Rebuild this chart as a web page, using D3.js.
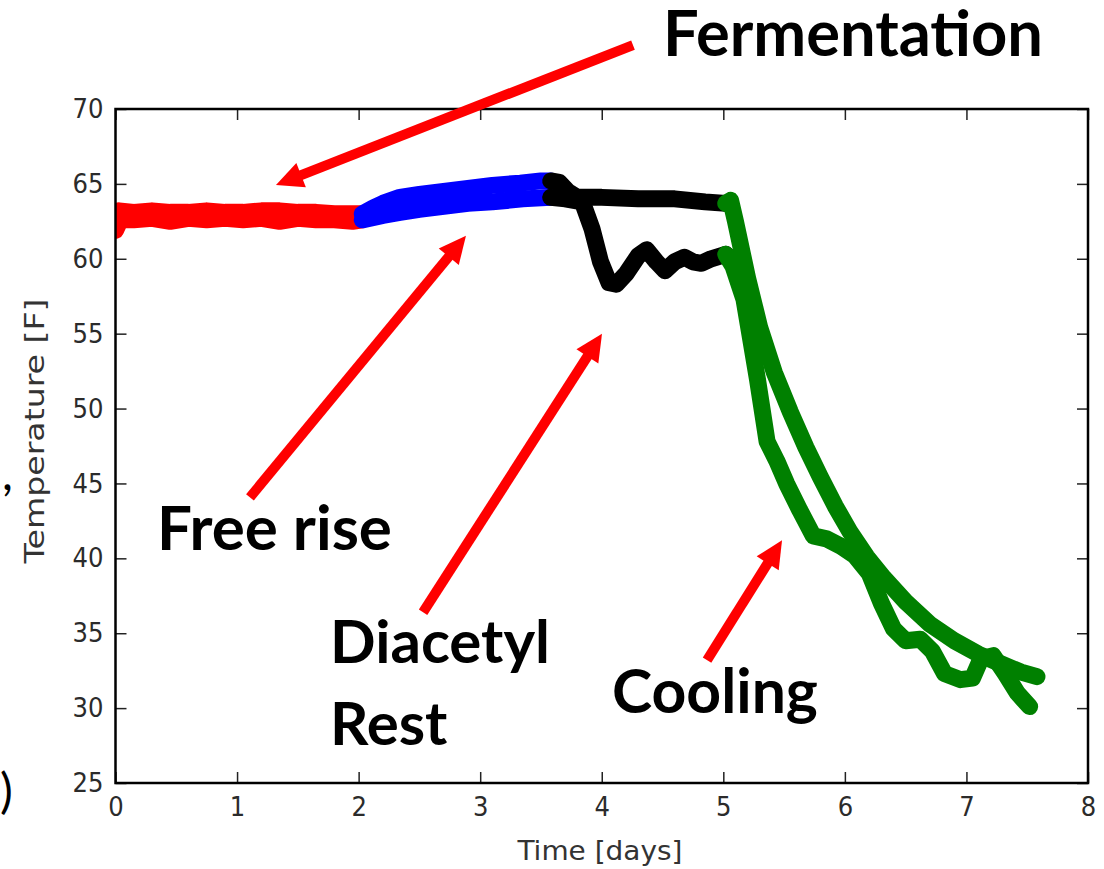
<!DOCTYPE html>
<html>
<head>
<meta charset="utf-8">
<script src="https://cdn.jsdelivr.net/npm/d3@7"></script>
<style>
  body { margin: 0; background: #fff; }
  svg { display: block; }
  .axis .tick text { font-family: "DejaVu Sans Condensed", "DejaVu Sans", sans-serif; font-size: 27px; fill: #2b2b2b; }
  .axis path { display: none; }
  .axis line { stroke: #222; stroke-width: 1.5; }
  .axislabel { font-family: "DejaVu Sans Condensed", "DejaVu Sans", sans-serif; font-size: 27px; fill: #333; }
  .note { font-family: Lato, "Open Sans", sans-serif; font-weight: 700; font-size: 60px; fill: #000; }
</style>
</head>
<body>
<div id="chart"></div>
<script>
const width = 1104, height = 869;
const padding = {top: 109, right: 16, bottom: 86, left: 115.5};

// ---- data: [day, temperature F] for the two batches, split by phase ----
const fermentRun1 = [[0,62.8],[0.03,63.2],[0.15,63.1],[0.3,63.2],[0.45,63.1],[0.6,63.1],[0.75,63.2],[0.9,63.1],[1.05,63.1],[1.2,63.2],[1.35,63.2],[1.5,63.1],[1.65,63.1],[1.8,63.0],[1.95,63.0],[2.03,63.0]];
const fermentRun2 = [[0,61.9],[0.04,62.6],[0.15,62.6],[0.3,62.7],[0.45,62.5],[0.6,62.7],[0.75,62.6],[0.9,62.7],[1.05,62.6],[1.2,62.7],[1.35,62.5],[1.5,62.7],[1.65,62.6],[1.8,62.6],[1.95,62.5],[2.03,62.6]];

const riseRun1 = [[2.03,63.0],[2.12,63.4],[2.2,63.7],[2.34,64.1],[2.5,64.3],[2.7,64.5],[2.9,64.7],[3.1,64.9],[3.33,65.05],[3.5,65.2],[3.58,65.2]];
const riseRun2 = [[2.03,62.6],[2.2,62.9],[2.34,63.1],[2.5,63.3],[2.7,63.5],[2.9,63.7],[3.1,63.8],[3.35,64.0],[3.58,64.1]];

const restRun1 = [[3.58,65.2],[3.65,65.1],[3.72,64.5],[3.8,64.1],[4.0,64.1],[4.3,64.0],[4.6,64.0],[4.85,63.8],[5.02,63.7]];
const restRun2 = [[3.58,64.1],[3.7,64.0],[3.84,63.8],[3.92,62.0],[3.99,59.8],[4.06,58.4],[4.12,58.3],[4.2,59.0],[4.3,60.2],[4.37,60.6],[4.45,59.8],[4.52,59.2],[4.6,59.8],[4.68,60.1],[4.75,59.8],[4.82,59.7],[4.9,60.0],[5.02,60.3]];

const coolRun1 = [[5.02,63.7],[5.06,63.9],[5.1,62.5],[5.2,58.7],[5.3,55.4],[5.42,52.4],[5.55,49.8],[5.68,47.4],[5.8,45.4],[5.92,43.5],[6.04,41.8],[6.18,40.1],[6.32,38.7],[6.5,37.1],[6.7,35.6],[6.9,34.5],[7.1,33.6],[7.3,32.9],[7.45,32.4],[7.58,32.1]];
const coolRun2 = [[5.02,60.3],[5.08,59.5],[5.17,57.3],[5.28,52.0],[5.36,47.8],[5.44,46.5],[5.52,45.0],[5.63,43.2],[5.74,41.5],[5.85,41.3],[5.97,40.8],[6.08,40.2],[6.2,39.0],[6.3,37.0],[6.4,35.3],[6.5,34.5],[6.62,34.6],[6.72,33.8],[6.82,32.3],[6.95,31.9],[7.05,32.0],[7.12,33.3],[7.22,33.5],[7.32,32.3],[7.42,31.0],[7.52,30.1]];

const xTicks = [0,1,2,3,4,5,6,7,8];
const yTicks = [25,30,35,40,45,50,55,60,65,70];

// annotations: text lines, text anchor [day, temp], arrow tail and tip [day, temp]
const noteLabels = [["Fermentation"], ["Free rise"], ["Diacetyl", "Rest"], ["Cooling"]];
const noteText   = [[4.504, 73.53], [0.341, 40.53], [1.765, 33.0], [4.084, 29.67]];
const noteTail   = [[4.257, 74.27], [1.106, 44.07], [2.530, 36.40], [4.866, 33.20]];
const noteTip    = [[1.320, 64.93], [2.883, 61.53], [4.002, 55.00], [5.483, 41.20]];
const noteWidth  = [380, 235, 220, 206];

const phaseColor = {ferment: "#ff0000", rise: "#0000ff", rest: "#000000", cool: "#008000"};

const svg = d3.select("#chart").append("svg")
  .attr("width", width).attr("height", height);

let x = d3.scaleLinear().domain([0, 8]).range([padding.left, width - padding.right]);
let y = d3.scaleLinear().domain([25, 70]).range([height - padding.bottom, padding.top]);

svg.append("clipPath").attr("id", "plotclip")
  .append("rect")
    .attr("x", x(0)).attr("y", y(70))
    .attr("width", x(8) - x(0)).attr("height", y(25) - y(70));

// ticks on all four sides, pointing inward
svg.append("g").attr("class", "axis x")
  .attr("transform", "translate(0," + y(25) + ")")
  .call(d3.axisBottom(x).tickValues(xTicks).tickSize(-11).tickPadding(14));
svg.append("g").attr("class", "axis x2")
  .attr("transform", "translate(0," + y(70) + ")")
  .call(d3.axisTop(x).tickValues(xTicks).tickSize(-11).tickFormat(""));
svg.append("g").attr("class", "axis y")
  .attr("transform", "translate(" + x(0) + ",0)")
  .call(d3.axisLeft(y).tickValues(yTicks).tickSize(-11).tickPadding(12));
svg.append("g").attr("class", "axis y2")
  .attr("transform", "translate(" + x(8) + ",0)")
  .call(d3.axisRight(y).tickValues(yTicks).tickSize(-11).tickFormat(""));

// draw the lines
let line = d3.line().x(d => x(d[0])).y(d => y(d[1]));
const phases = [
  ["ferment", [fermentRun1, fermentRun2]],
  ["rise", [riseRun1, riseRun2]],
  ["rest", [restRun1, restRun2]],
  ["cool", [coolRun1, coolRun2]]
];
const lines = svg.append("g").attr("clip-path", "url(#plotclip)");
phases.forEach(function(p) {
  lines.selectAll(".ph-" + p[0])
    .data(p[1])
    .join("path")
      .attr("class", "ph-" + p[0])
      .attr("fill", "none")
      .attr("stroke", phaseColor[p[0]])
      .attr("stroke-width", 17)
      .attr("stroke-linejoin", "round")
      .attr("stroke-linecap", "round")
      .attr("d", line);
});

// frame
svg.append("rect")
  .attr("x", x(0)).attr("y", y(70))
  .attr("width", x(8) - x(0)).attr("height", y(25) - y(70))
  .attr("fill", "none").attr("stroke", "#000").attr("stroke-width", 2.5);

// axis titles
svg.append("text").attr("class", "axislabel")
  .attr("x", 600).attr("y", 860)
  .attr("text-anchor", "middle")
  .attr("textLength", 165).attr("lengthAdjust", "spacingAndGlyphs")
  .text("Time [days]");
svg.append("text").attr("class", "axislabel")
  .attr("transform", "translate(44,431) rotate(-90)")
  .attr("text-anchor", "middle")
  .attr("textLength", 265).attr("lengthAdjust", "spacingAndGlyphs")
  .text("Temperature [F]");

// red arrows
function arrow(t0, t1) {
  let x0 = x(t0[0]), y0 = y(t0[1]), x1 = x(t1[0]), y1 = y(t1[1]);
  let len = Math.hypot(x1 - x0, y1 - y0);
  let ux = (x1 - x0) / len, uy = (y1 - y0) / len;
  let headL = 27, headW = 13;
  let bx = x1 - ux * headL, by = y1 - uy * headL;
  let g = svg.append("g");
  g.append("line")
    .attr("x1", x0).attr("y1", y0).attr("x2", bx + ux * 2).attr("y2", by + uy * 2)
    .attr("stroke", "#ff0000").attr("stroke-width", 10);
  g.append("path")
    .attr("d", "M" + x1 + "," + y1 +
               "L" + (bx - uy * headW) + "," + (by + ux * headW) +
               "L" + (bx + uy * headW) + "," + (by - ux * headW) + "Z")
    .attr("fill", "#ff0000");
}
noteLabels.forEach(function(lbl, i) {
  arrow(noteTail[i], noteTip[i]);
  let texts = lbl.map(function(s, j) {
    return svg.append("text").attr("class", "note")
      .attr("x", x(noteText[i][0]))
      .attr("y", y(noteText[i][1]) + j * 82)
      .text(s);
  });
  // size the font so the first line matches the wanted width
  let w = texts[0].node().getComputedTextLength();
  let fs = Math.min(66, 60 * noteWidth[i] / w);
  texts.forEach(t => t.style("font-size", fs + "px"));
});

// stray slide characters left on the crop's left edge
svg.append("text").attr("class", "note").style("font-weight", 400).style("font-size", "48px")
  .attr("x", 2).attr("y", 490).text(",");
svg.append("text").attr("class", "note").style("font-weight", 400).style("font-size", "48px")
  .attr("x", 0).attr("y", 808).text(")");
</script>
</body>
</html>
